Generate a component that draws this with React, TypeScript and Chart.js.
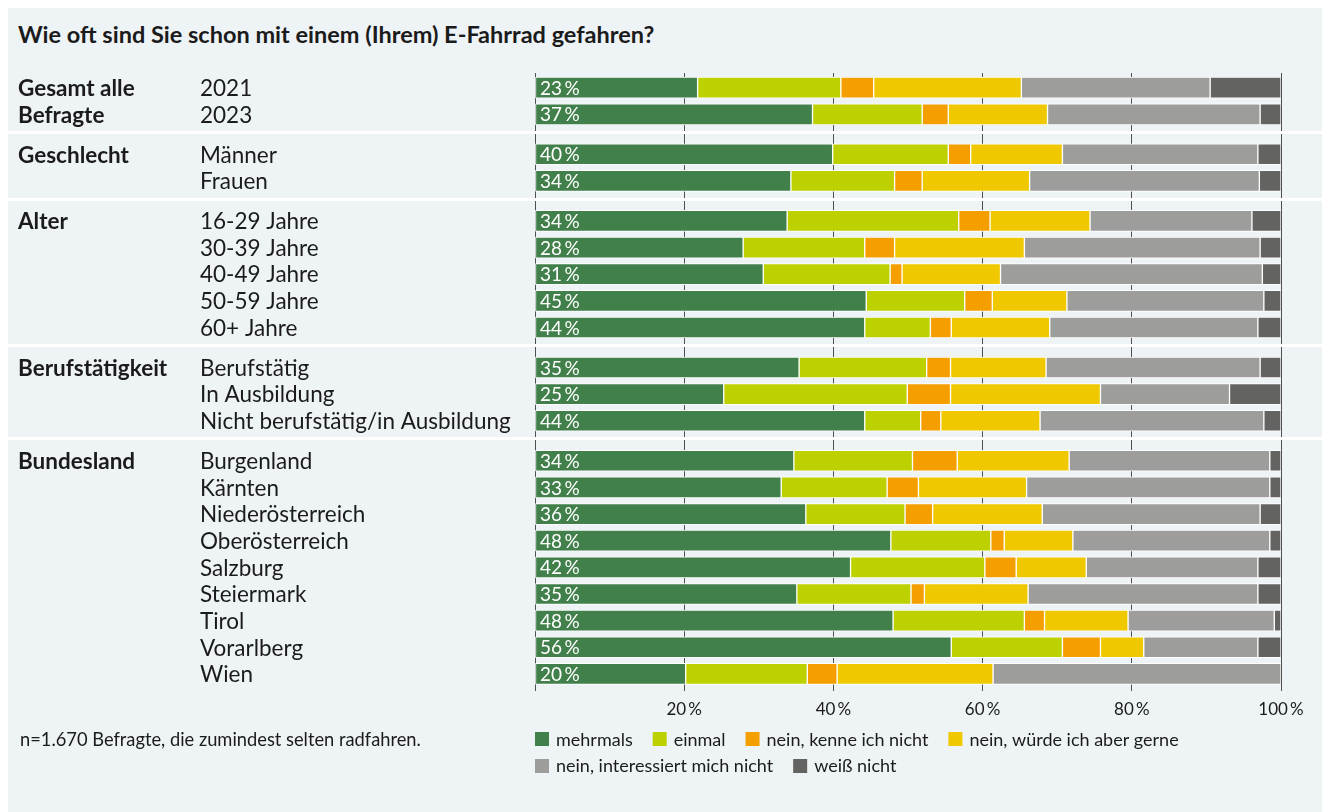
import React, { useEffect, useRef } from "react";
import { Chart, registerables } from "chart.js";
Chart.register(...registerables);

const title = "Wie oft sind Sie schon mit einem (Ihrem) E-Fahrrad gefahren?";
const footnote = "n=1.670 Befragte, die zumindest selten radfahren.";

const groupLabels = [["Gesamt alle", "Befragte"], ["Geschlecht"], ["Alter"], ["Berufstätigkeit"], ["Bundesland"]];
const rowLabels = [
  "2021", "2023",
  "Männer", "Frauen",
  "16-29 Jahre", "30-39 Jahre", "40-49 Jahre", "50-59 Jahre", "60+ Jahre",
  "Berufstätig", "In Ausbildung", "Nicht berufstätig/in Ausbildung",
  "Burgenland", "Kärnten", "Niederösterreich", "Oberösterreich", "Salzburg", "Steiermark", "Tirol", "Vorarlberg", "Wien",
];
const rowGroup = [0, 0, 1, 1, 2, 2, 2, 2, 2, 3, 3, 3, 4, 4, 4, 4, 4, 4, 4, 4, 4];

const mehrmals = [21.8, 37.2, 39.9, 34.3, 33.8, 27.9, 30.6, 44.4, 44.2, 35.4, 25.3, 44.2, 34.7, 33.0, 36.3, 47.7, 42.3, 35.1, 48.0, 55.8, 20.2];
const einmal = [19.2, 14.7, 15.5, 13.9, 23.0, 16.3, 17.0, 13.2, 8.8, 17.1, 24.6, 7.5, 15.9, 14.2, 13.3, 13.4, 18.0, 15.3, 17.6, 14.9, 16.3];
const kenneNicht = [4.4, 3.5, 3.0, 3.7, 4.2, 4.0, 1.6, 3.7, 2.8, 3.2, 5.8, 2.7, 6.0, 4.2, 3.7, 1.8, 4.2, 1.8, 2.7, 5.1, 4.0];
const wuerdeGerne = [19.8, 13.3, 12.3, 14.4, 13.4, 17.4, 13.2, 10.0, 13.2, 12.8, 20.1, 13.3, 15.0, 14.5, 14.7, 9.2, 9.4, 13.9, 11.2, 5.8, 20.9];
const interessiertNicht = [25.3, 28.5, 26.2, 30.8, 21.7, 31.6, 35.1, 26.4, 27.9, 28.7, 17.3, 30.0, 26.9, 32.6, 29.2, 26.4, 23.0, 30.8, 19.6, 15.3, 38.6];
const weissNicht = [9.5, 2.8, 3.1, 2.9, 3.9, 2.8, 2.5, 2.3, 3.1, 2.8, 6.9, 2.3, 1.5, 1.5, 2.8, 1.5, 3.1, 3.1, 0.9, 3.1, 0];

const barLabels = [23, 37, 40, 34, 34, 28, 31, 45, 44, 35, 25, 44, 34, 33, 36, 48, 42, 35, 48, 56, 20];

const seriesNames = ["mehrmals", "einmal", "nein, kenne ich nicht", "nein, würde ich aber gerne", "nein, interessiert mich nicht", "weiß nicht"];
const seriesValues = [mehrmals, einmal, kenneNicht, wuerdeGerne, interessiertNicht, weissNicht];
const seriesColors = ["#41804a", "#bdd000", "#f59e00", "#f0c800", "#9d9e9c", "#636361"];

const xTickStep = 20;
const pctSuffix = "\u2009%";

const GROUP_GAP = 0.5;
const rowPos = (i: number) => i + GROUP_GAP * rowGroup[i];

const FONT = "Lato, 'Noto Sans', sans-serif";
const TEXT = "#1b1b1b";
const BG = "#eef3f6";
const W = 1314;
const H = 804;

const labelsPlugin = {
  id: "rowLabels",
  beforeDatasetsDraw(chart: any) {
    const ctx = chart.ctx;
    const y = chart.scales.y;
    ctx.save();
    ctx.fillStyle = "#ffffff";
    for (let g = 0; g < groupLabels.length - 1; g++) {
      let last = -1;
      rowGroup.forEach((gg, i) => { if (gg === g) last = i; });
      const py = y.getPixelForValue(rowPos(last) + 0.66);
      ctx.fillRect(0, Math.round(py) - 1, chart.width, 3);
    }
    ctx.restore();
  },
  afterDatasetsDraw(chart: any) {
    const ctx = chart.ctx;
    const y = chart.scales.y;
    const area = chart.chartArea;
    ctx.save();
    ctx.textBaseline = "middle";
    ctx.textAlign = "left";
    // in-bar labels
    ctx.fillStyle = "#ffffff";
    ctx.font = `19px ${FONT}`;
    barLabels.forEach((v, i) => {
      ctx.fillText(`${v}${pctSuffix}`, area.left + 5, y.getPixelForValue(rowPos(i)) + 1);
    });
    // row labels
    ctx.fillStyle = TEXT;
    ctx.font = `22.5px ${FONT}`;
    rowLabels.forEach((t, i) => {
      ctx.fillText(t, 192, y.getPixelForValue(rowPos(i)) + 1);
    });
    // group labels
    ctx.font = `bold 22.5px ${FONT}`;
    groupLabels.forEach((lines, g) => {
      const first = rowGroup.indexOf(g);
      lines.forEach((t, k) => {
        ctx.fillText(t, 10, y.getPixelForValue(rowPos(first + k)) + 1);
      });
    });
    // legend
    ctx.font = `18px ${FONT}`;
    const box = 14;
    let lx = area.left;
    let ly = area.bottom + 48;
    chart.data.datasets.forEach((d: any) => {
      const tw = ctx.measureText(d.label).width;
      const itemW = box + 8 + tw;
      if (lx > area.left && lx + itemW > area.right) {
        lx = area.left;
        ly += 26.5;
      }
      ctx.fillStyle = d.backgroundColor;
      ctx.fillRect(lx, Math.round(ly - box / 2), box, box);
      ctx.fillStyle = TEXT;
      ctx.fillText(d.label, lx + box + 7, ly + 1);
      lx += itemW + 19;
    });
    ctx.restore();
  },
};

export default function App() {
  const ref = useRef<HTMLCanvasElement | null>(null);
  useEffect(() => {
    if (!ref.current) return;
    const lastPos = rowPos(rowLabels.length - 1);
    const chart = new Chart(ref.current, {
      type: "bar",
      data: {
        datasets: seriesValues.map((vals, s) => ({
          label: seriesNames[s],
          data: vals.map((v, i) => ({ x: v, y: rowPos(i) })),
          backgroundColor: seriesColors[s],
          borderColor: "#ffffff",
          borderWidth: 1,
          borderSkipped: false,
          barThickness: 21,
        })),
      },
      options: {
        indexAxis: "y",
        responsive: false,
        animation: false,
        layout: { padding: { left: 527, right: 41, top: 65, bottom: 92 } },
        scales: {
          x: {
            type: "linear",
            stacked: true,
            min: 0,
            max: 100,
            border: { display: false },
            grid: { color: "#4f4f4f", lineWidth: 1, drawTicks: false },
            ticks: {
              stepSize: xTickStep,
              autoSkip: false,
              maxRotation: 0,
              padding: 8,
              color: TEXT,
              font: { family: FONT, size: 17 },
              callback: (v: any) => (v === 0 ? "" : `${v}${pctSuffix}`),
            },
            afterFit: (s: any) => { s.height = 29; },
          },
          y: {
            type: "linear",
            display: false,
            stacked: true,
            reverse: true,
            offset: false,
            min: -0.55,
            max: lastPos + 0.64,
          },
        },
        plugins: {
          legend: { display: false },
          tooltip: { enabled: false },
          title: { display: false },
        },
      },
      plugins: [labelsPlugin],
    } as any);
    return () => chart.destroy();
  }, []);

  return (
    <div style={{ position: "absolute", left: 8, top: 8, right: 0, bottom: 0, background: BG, overflow: "hidden" }}>
      <div style={{ position: "absolute", left: 10, top: 12, font: `bold 23.5px ${FONT}`, color: TEXT, lineHeight: "28px", whiteSpace: "nowrap" }}>
        {title}
      </div>
      <canvas ref={ref} width={W} height={H} style={{ position: "absolute", left: 0, top: 0, width: W, height: H }} />
      <div style={{ position: "absolute", left: 12, top: 719, font: `18.3px ${FONT}`, color: TEXT, lineHeight: "24px", whiteSpace: "nowrap" }}>
        {footnote}
      </div>
    </div>
  );
}
